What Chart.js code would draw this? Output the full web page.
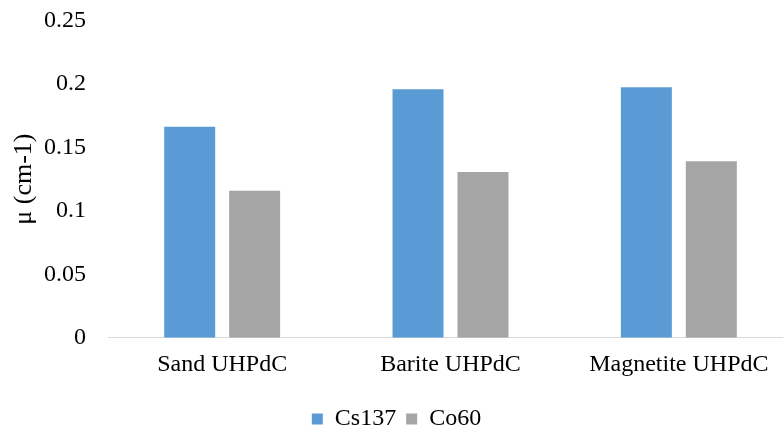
<!DOCTYPE html>
<html>
<head>
<meta charset="utf-8">
<script src="https://cdn.jsdelivr.net/npm/chart.js@4/dist/chart.umd.min.js"></script>
<style>
html,body{margin:0;padding:0;background:#fff;overflow:hidden;width:783px;height:428px;}
canvas{display:block;}
</style>
</head>
<body>
<canvas id="c" width="795" height="428"></canvas>
<script>
const categories = ["Sand UHPdC", "Barite UHPdC", "Magnetite UHPdC"];
const cs137 = [0.1663, 0.1958, 0.1973];
const co60 = [0.1159, 0.1306, 0.139];
const seriesNames = ["Cs137", "Co60"];
const yTitle = "μ (cm-1)";

const FONT = "'Liberation Serif', 'Times New Roman', serif";
Chart.defaults.font.family = FONT;
Chart.defaults.color = "#000";

new Chart(document.getElementById("c"), {
  type: "bar",
  data: {
    labels: categories,
    datasets: [
      { label: seriesNames[0], data: cs137, backgroundColor: "#5B9BD5", categoryPercentage: 0.569, barPercentage: 0.785 },
      { label: seriesNames[1], data: co60, backgroundColor: "#A5A5A5", categoryPercentage: 0.569, barPercentage: 0.785 }
    ]
  },
  options: {
    responsive: false,
    animation: false,
    devicePixelRatio: 1,
    layout: { padding: { top: 0, right: 2, left: 0, bottom: -13 } },
    plugins: {
      legend: {
        position: "bottom",
        labels: { boxWidth: 11, boxHeight: 11, padding: 10, font: { size: 24, family: FONT }, color: "#000" }
      },
      tooltip: { enabled: false }
    },
    scales: {
      x: {
        grid: { display: false, drawTicks: false },
        border: { display: true, color: "#D9D9D9", width: 1 },
        ticks: { font: { size: 24, family: FONT }, color: "#000", padding: 13 },
        afterFit: (s) => { s.height = 59.3; }
      },
      y: {
        min: 0, max: 0.25,
        grid: { display: false, drawTicks: false },
        border: { display: false },
        ticks: { stepSize: 0.05, font: { size: 24, family: FONT }, color: "#000", padding: 22,
          callback: (v) => String(Math.round(v * 100) / 100) },
        title: { display: true, text: yTitle, font: { size: 26, family: FONT }, color: "#000", padding: { top: 9, bottom: 0 } },
        afterFit: (s) => { s.width = 108; s.paddingTop = 20.5; }
      }
    }
  }
});
</script>
</body>
</html>
